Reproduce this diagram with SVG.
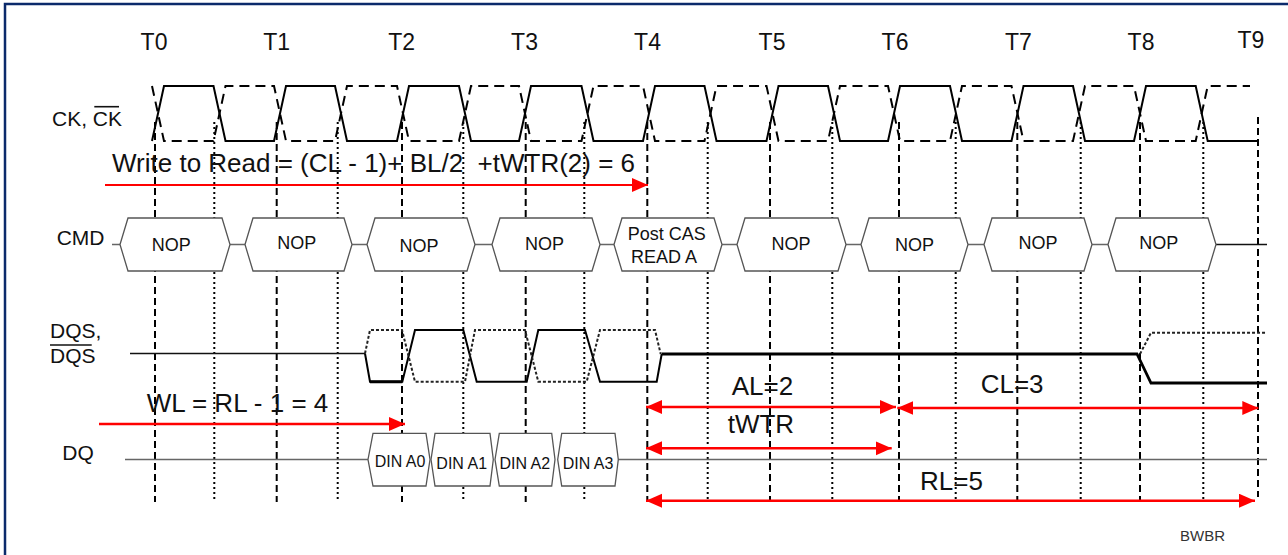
<svg xmlns="http://www.w3.org/2000/svg" width="1288" height="555" viewBox="0 0 1288 555">
<style>
text{font-family:"Liberation Sans",Arial,sans-serif;fill:#111}
.t{font-size:23px;text-anchor:middle}
.lbl{font-size:21px}
.big{font-size:26px}
.nop{font-size:18px;text-anchor:middle}
.din{font-size:16px;text-anchor:middle}
.vd{stroke:#000;stroke-width:2;stroke-dasharray:7 4;fill:none}
.vt{stroke:#000;stroke-width:2;stroke-dasharray:2 3;fill:none}
.ck{stroke:#000;stroke-width:2;fill:none}
.ckn{stroke:#000;stroke-width:2;fill:none;stroke-dasharray:10 6}
.box{fill:#fff;stroke:#555;stroke-width:1.3}
.bus{stroke:#666;stroke-width:1.4;fill:none}
.ws{stroke:#000;stroke-width:2;fill:none}
.wd{stroke:#222;stroke-width:2;fill:none;stroke-dasharray:3 2}
.red{stroke:#f00;stroke-width:2.6;fill:none}
</style>
<defs>
<marker id="ah" markerUnits="userSpaceOnUse" markerWidth="17" markerHeight="15" refX="16" refY="7" orient="auto-start-reverse" viewBox="0 0 17 15">
<path d="M0,0 L16,7 L0,14 z" fill="#f00"/>
</marker>
</defs>
<rect width="1288" height="555" fill="#fff"/>
<path d="M5,555 V4 H1288" stroke="#0b2a6b" stroke-width="2.5" fill="none"/>

<g id="time-labels">
<text class="t" x="154" y="50">T0</text>
<text class="t" x="276.7" y="50">T1</text>
<text class="t" x="401.7" y="50">T2</text>
<text class="t" x="524.5" y="50">T3</text>
<text class="t" x="647.5" y="50">T4</text>
<text class="t" x="772" y="50">T5</text>
<text class="t" x="895" y="50">T6</text>
<text class="t" x="1018.3" y="50">T7</text>
<text class="t" x="1141" y="50">T8</text>
<text class="t" x="1250.8" y="48">T9</text>
</g>

<g id="gridlines">
<path class="vd" d="M155,122V502M276.7,122V502M402,122V502M525.7,122V502M647.3,122V502M770,122V502M899,122V502M1017.3,122V502M1140,122V502M1258,117V497"/>
<path class="vt" d="M214.3,122V502M337.7,122V502M463.3,122V502M584.3,122V502M707.7,122V502M832.3,122V502M955.7,122V502M1080.7,122V502M1203.3,122V502"/>
</g>

<g id="signal-labels">
<text class="lbl" x="52" y="126">CK, CK</text>
<line x1="94.3" y1="106.7" x2="119" y2="106.7" stroke="#111" stroke-width="1.6"/>
<text class="lbl" x="56.7" y="245">CMD</text>
<text class="lbl" x="50" y="338.3">DQS,</text>
<text class="lbl" x="50" y="362.7">DQS</text>
<line x1="50" y1="345" x2="91.7" y2="345" stroke="#111" stroke-width="1.6"/>
<text class="lbl" x="62.3" y="460">DQ</text>
</g>

<g id="clock">
<path class="ck" d="M152,141 L164,86 H213.5 L225.5,141 H274 L286,86 H335 L347,141 H397 L409,86 H459 L471,141 H519 L531,86 H581.5 L593.5,141 H643 L655,86 H704.5 L716.5,141 H766.5 L778.5,86 H828 L840,141 H888 L900,86 H950 L962,141 H1011.5 L1023.5,86 H1073 L1085,141 H1134 L1146,86 H1195.7 L1207.7,141 H1257"/>
<path class="ckn" d="M152,86 L164,141 H213.5 L225.5,86 H274 L286,141 H335 L347,86 H397 L409,141 H459 L471,86 H519 L531,141 H581.5 L593.5,86 H643 L655,141 H704.5 L716.5,86 H766.5 L778.5,141 H828 L840,86 H888 L900,141 H950 L962,86 H1011.5 L1023.5,141 H1073 L1085,86 H1134 L1146,141 H1195.7 L1207.7,86 H1250"/>
</g>

<g id="cmd-bus">
<path class="bus" d="M112,244.5H120M230,244.5H245M352,244.5H367M475,244.5H492M600,244.5H614M722,244.5H737M846,244.5H861M968,244.5H984M1092,244.5H1108"/>
<path d="M1216,244.5H1267" stroke="#111" stroke-width="1.6"/>
</g>
<g id="cmd1"><polygon class="box" points="120,244.5 128,218 222,218 230,244.5 222,271 128,271"/><text class="nop" x="171.3" y="251">NOP</text></g>
<g id="cmd2"><polygon class="box" points="245,244.5 253,218 344,218 352,244.5 344,271 253,271"/><text class="nop" x="296.7" y="249">NOP</text></g>
<g id="cmd3"><polygon class="box" points="367,244.5 375,218 467,218 475,244.5 467,271 375,271"/><text class="nop" x="419" y="251.5">NOP</text></g>
<g id="cmd4"><polygon class="box" points="492,244.5 500,218 592,218 600,244.5 592,271 500,271"/><text class="nop" x="544.5" y="249.5">NOP</text></g>
<g id="cmd5"><polygon class="box" points="614,244.5 622,218 714,218 722,244.5 714,271 622,271"/><text class="nop" x="666.7" y="240">Post CAS</text><text class="nop" x="664" y="263.3">READ A</text></g>
<g id="cmd6"><polygon class="box" points="737,244.5 745,218 838,218 846,244.5 838,271 745,271"/><text class="nop" x="791" y="249.5">NOP</text></g>
<g id="cmd7"><polygon class="box" points="861,244.5 869,218 960,218 968,244.5 960,271 869,271"/><text class="nop" x="914.5" y="251">NOP</text></g>
<g id="cmd8"><polygon class="box" points="984,244.5 992,218 1084,218 1092,244.5 1084,271 992,271"/><text class="nop" x="1038" y="248.5">NOP</text></g>
<g id="cmd9"><polygon class="box" points="1108,244.5 1116,218 1208,218 1216,244.5 1208,271 1116,271"/><text class="nop" x="1158.8" y="248.5">NOP</text></g>

<g id="dqs">
<path d="M130,353.5 H365" stroke="#111" stroke-width="1.6" fill="none"/>
<path class="ws" d="M365,353.5 L370,381.7 H402.3 L415,330 H463.3 L476.7,381.7 H526.7 L538.3,330 H585 L600,381.7 H656.7 L661.7,354"/>
<path d="M370,381.7 H402.3" stroke="#000" stroke-width="3"/>
<path d="M661.7,354 H1137 L1151,383 H1267" stroke="#000" stroke-width="2.8" fill="none"/>
<path class="wd" d="M365,353.5 L370,330 H402 L415,381.7 H465 L475,330 H525 L538.3,381.7 H586.7 L600,330 H655 L660.7,354"/>
<path class="wd" d="M1140,354 L1151,332.7 H1267"/>
</g>

<g id="dq-bus">
<path class="bus" d="M125,459.5H368M618.3,459.5H1267"/>
</g>
<g id="din0"><polygon class="box" points="368,459.5 373,433.3 426,433.3 430,459.5 426,486 373,486"/><text class="din" x="400" y="467">DIN A0</text></g>
<g id="din1"><polygon class="box" points="431,459.5 435,433.3 490,433.3 493.3,459.5 490,486 435,486"/><text class="din" x="461.7" y="469">DIN A1</text></g>
<g id="din2"><polygon class="box" points="495,459.5 499.3,433.3 551.7,433.3 555,459.5 551.7,486 499.3,486"/><text class="din" x="524.8" y="469">DIN A2</text></g>
<g id="din3"><polygon class="box" points="557.7,459.5 561.7,433.3 615,433.3 618.3,459.5 615,486 561.7,486"/><text class="din" x="588" y="469">DIN A3</text></g>

<g id="connectors">
<line class="red" style="stroke-width:2" x1="105" y1="185" x2="648" y2="185" marker-end="url(#ah)"/>
<line class="red" x1="99" y1="424" x2="405" y2="424" marker-end="url(#ah)"/>
<line class="red" x1="646" y1="407" x2="896" y2="407" marker-start="url(#ah)" marker-end="url(#ah)"/>
<line class="red" x1="897.3" y1="408" x2="1258.3" y2="408" marker-start="url(#ah)" marker-end="url(#ah)"/>
<line class="red" x1="646" y1="448.3" x2="891.7" y2="448.3" marker-start="url(#ah)" marker-end="url(#ah)"/>
<line class="red" x1="646" y1="500.7" x2="1255" y2="500.7" marker-start="url(#ah)" marker-end="url(#ah)"/>
</g>

<g id="annotations">
<text class="big" x="112" y="172" xml:space="preserve" style="white-space:pre">Write to Read = (CL - 1)+ BL/2  +tWTR(2) = 6</text>
<text class="big" x="146.7" y="411.7">WL = RL - 1 = 4</text>
<text class="big" x="731.7" y="395">AL=2</text>
<text class="big" x="980.7" y="392.7">CL=3</text>
<text class="big" x="727.7" y="433.3">tWTR</text>
<text class="big" x="920" y="490">RL=5</text>
<text x="1180" y="541" style="font-size:15px;fill:#333">BWBR</text>
</g>
</svg>
